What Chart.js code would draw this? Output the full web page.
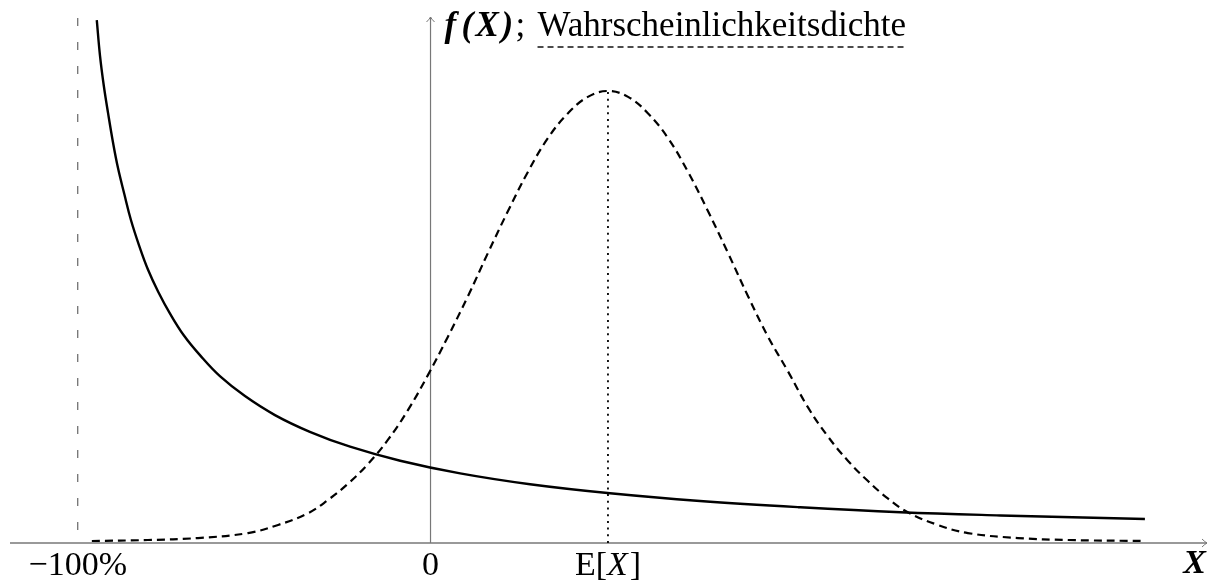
<!DOCTYPE html>
<html>
<head>
<meta charset="utf-8">
<script src="https://cdn.jsdelivr.net/npm/chart.js@4.4.0/dist/chart.umd.min.js"></script>
<style>
  html, body { margin: 0; padding: 0; background: #fff; }
  #wrap { width: 1211px; height: 583px; }
</style>
</head>
<body>
<div id="wrap"><canvas id="chart"></canvas></div>
<script>
// Rendite X in %, Dichte relativ zum Maximum der Glockenkurve
const skewX = [-94.6, -93.7, -92.6, -91.4, -90.0, -88.6, -86.8, -84.9, -82.6, -80.1, -77.2, -73.8, -69.9,
               -65.3, -59.7, -52.6, -44.1, -34.2, -22.8, -8.6, 8.4, 28.2, 50.9, 76.4, 104.8, 133.2, 161.5, 202.5];
const skewY = [1.157, 1.079, 1.011, 0.951, 0.886, 0.830, 0.772, 0.714, 0.658, 0.605, 0.556, 0.507, 0.459,
               0.415, 0.369, 0.325, 0.283, 0.246, 0.213, 0.182, 0.154, 0.130, 0.110, 0.093, 0.079, 0.068, 0.061, 0.053];

const bellX = [-96.0, -80.1, -65.9, -51.7, -43.2, -34.7, -29.1, -23.4, -17.7, -12.1, -6.4, -0.7, 4.9, 10.6,
               16.3, 22.0, 27.6, 33.3, 39.0, 44.6, 50.3, 56.0, 61.6, 67.3, 73.0, 78.6, 84.3, 90.0, 95.7,
               101.3, 107.0, 112.7, 118.3, 124.0, 129.7, 135.3, 143.8, 152.3, 166.5, 180.7, 202.5];
const bellY = [0.0044, 0.0066, 0.011, 0.022, 0.040, 0.066, 0.095, 0.131, 0.175, 0.228, 0.294, 0.372, 0.456, 0.546,
               0.642, 0.735, 0.821, 0.896, 0.951, 0.987, 1.0, 0.987, 0.951, 0.896, 0.821, 0.735, 0.642, 0.546, 0.456,
               0.380, 0.300, 0.235, 0.182, 0.137, 0.098, 0.068, 0.040, 0.022, 0.011, 0.0066, 0.0044];

const lowerBound = -100;
const expectedValue = 50.3;
const peakDensity = 1.0;
const tickValues = [-100, 0];
const tickLabels = ["\u2212100%", "0"];
const xRange = [-119.2, 220.1];
const yRange = [0, 1.1615];

const serif = '"Liberation Serif", "Times New Roman", serif';

const toPoints = (xs, ys) => xs.map((v, i) => ({ x: v, y: ys[i] }));

const axisPlugin = {
  id: "axisPlugin",
  beforeDatasetsDraw(chart) {
    const { ctx, scales: { x, y } } = chart;
    const x0 = x.getPixelForValue(0);
    const y0 = y.getPixelForValue(0);
    const left = x.getPixelForValue(xRange[0]);
    const right = x.getPixelForValue(xRange[1]);
    const top = y.getPixelForValue(yRange[1]) - 1;
    ctx.save();
    ctx.strokeStyle = "#777";
    ctx.lineWidth = 1.6;
    ctx.beginPath(); ctx.moveTo(left, y0); ctx.lineTo(right, y0); ctx.stroke();
    ctx.lineWidth = 1;
    ctx.beginPath(); ctx.moveTo(right - 5, y0 - 4); ctx.quadraticCurveTo(right - 2, y0 - 1, right, y0);
    ctx.quadraticCurveTo(right - 2, y0 + 1, right - 5, y0 + 4); ctx.stroke();
    ctx.lineWidth = 1.2;
    ctx.beginPath(); ctx.moveTo(x0, y0); ctx.lineTo(x0, top); ctx.stroke();
    ctx.lineWidth = 1;
    ctx.beginPath(); ctx.moveTo(x0 - 4, top + 5); ctx.quadraticCurveTo(x0 - 1, top + 2, x0, top);
    ctx.quadraticCurveTo(x0 + 1, top + 2, x0 + 4, top + 5); ctx.stroke();
    ctx.restore();
  },
  afterDraw(chart) {
    const { ctx, scales: { x, y } } = chart;
    const y0 = y.getPixelForValue(0);
    const x0 = x.getPixelForValue(0);
    const base = y0 + 32;
    ctx.save();
    ctx.fillStyle = "#000";
    ctx.textBaseline = "alphabetic";

    // Achsenbeschriftung unten
    ctx.font = `34px ${serif}`;
    ctx.textAlign = "center";
    tickValues.forEach((v, i) => ctx.fillText(tickLabels[i], x.getPixelForValue(v), base));

    // E[X] mit kursivem X
    const ex = x.getPixelForValue(expectedValue);
    ctx.textAlign = "left";
    ctx.font = `34px ${serif}`;
    const wA = ctx.measureText("E[").width;
    const wC = ctx.measureText("]").width;
    ctx.font = `italic 34px ${serif}`;
    const wB = ctx.measureText("X").width + 2;
    let cx = ex - (wA + wB + wC) / 2;
    ctx.font = `34px ${serif}`;
    ctx.fillText("E[", cx, base);
    ctx.font = `italic 34px ${serif}`;
    ctx.fillText("X", cx + wA, base);
    ctx.font = `34px ${serif}`;
    ctx.fillText("]", cx + wA + wB, base);

    // X am Pfeil
    ctx.font = `bold italic 34px ${serif}`;
    ctx.textAlign = "right";
    ctx.fillText("X", x.getPixelForValue(xRange[1]) - 1, base - 2);

    // Titel an der y-Achse
    const ty = 36;
    ctx.textAlign = "left";
    ctx.font = `bold italic 35px ${serif}`;
    ctx.fillText("f", x0 + 14, ty);
    ctx.fillText("(", x0 + 31, ty);
    ctx.fillText("X", x0 + 45, ty);
    ctx.fillText(")", x0 + 71, ty);
    ctx.font = `35px ${serif}`;
    ctx.fillText(";", x0 + 85, ty);
    const wx = x0 + 107;
    ctx.fillText("Wahrscheinlichkeitsdichte", wx, ty);
    const ww = ctx.measureText("Wahrscheinlichkeitsdichte").width;
    ctx.strokeStyle = "#111";
    ctx.lineWidth = 1.6;
    ctx.setLineDash([6, 4]);
    ctx.beginPath(); ctx.moveTo(wx, ty + 11); ctx.lineTo(wx + ww, ty + 11); ctx.stroke();
    ctx.restore();
  }
};

new Chart(document.getElementById("chart"), {
  type: "line",
  data: {
    datasets: [
      {
        label: "Grenze -100%",
        data: [{ x: lowerBound, y: yRange[1] }, { x: lowerBound, y: 0 }],
        borderColor: "#666", borderWidth: 1.2, borderDash: [8, 16], pointRadius: 0, tension: 0
      },
      {
        label: "E[X]",
        data: [{ x: expectedValue, y: 0 }, { x: expectedValue, y: peakDensity }],
        borderColor: "#000", borderWidth: 1.8, borderDash: [2, 4.7], pointRadius: 0, tension: 0
      },
      {
        label: "Normalverteilung",
        data: toPoints(bellX, bellY),
        borderColor: "#000", borderWidth: 2.2, borderDash: [8, 5], pointRadius: 0,
        tension: 0.4
      },
      {
        label: "Schiefe Verteilung",
        data: toPoints(skewX, skewY),
        borderColor: "#000", borderWidth: 2.4, pointRadius: 0,
        tension: 0.4
      }
    ]
  },
  options: {
    responsive: true,
    maintainAspectRatio: false,
    animation: false,
    layout: { padding: { left: 10, right: 4, top: 18, bottom: 40 } },
    plugins: { legend: { display: false }, tooltip: { enabled: false } },
    elements: { line: { fill: false } },
    scales: {
      x: { type: "linear", min: xRange[0], max: xRange[1], display: false },
      y: { type: "linear", min: yRange[0], max: yRange[1], display: false }
    }
  },
  plugins: [axisPlugin]
});
</script>
</body>
</html>
